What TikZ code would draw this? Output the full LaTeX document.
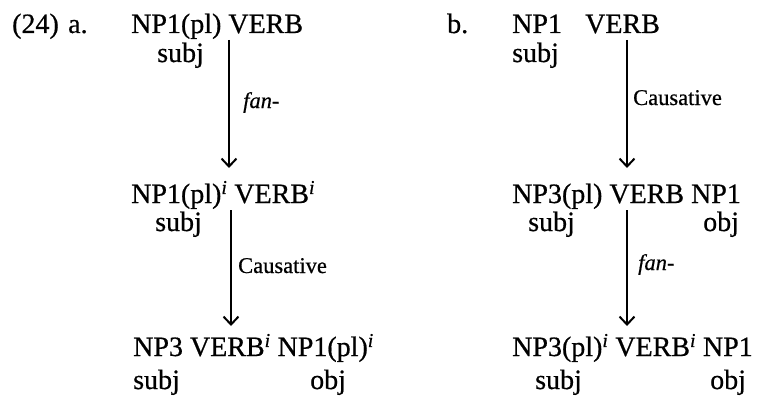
\documentclass[tikz,border=0pt]{standalone}
\usepackage{fontspec}
\setmainfont{Liberation Serif}[FakeBold=0.6, ItalicFeatures={FakeBold=0.5}]
\usetikzlibrary{arrows.meta}
\tikzset{
  txt/.style={anchor=base west, inner sep=0pt, font=\fontsize{28}{30}\selectfont},
  lbl/.style={anchor=base west, inner sep=0pt, font=\fontsize{22.5}{24}\selectfont},
  arr/.style={line width=1.1pt, -{Straight Barb[length=8pt,width=15pt,line width=2pt]}}
}
\newcommand{\supi}{\textsuperscript{\itshape i}}
\begin{document}
\begin{tikzpicture}[x=1pt,y=-1pt]
\useasboundingbox (0,0) rectangle (759,396);
% (a)
\node[txt] (num) at (12,33) {(24)};
\node[txt] (la) at (68,33) {a.};
\node[txt] (a1) at (131,33) {NP1(pl) VERB};
\node[txt] (a1s) at (157,62) {subj};
\coordinate (a1from) at (229,40);
\coordinate (a1to) at (229,168);
\draw[arr] (a1from) -- (a1to);
\node[lbl] (fa) at (243,108) {\itshape fan-};
\node[txt] (a2) at (131,203) {NP1(pl)\supi{} VERB\supi};
\node[txt] (a2s) at (155,231) {subj};
\coordinate (a2from) at (231,210);
\coordinate (a2to) at (231,326);
\draw[arr] (a2from) -- (a2to);
\node[lbl] (ca) at (238,273) {Causative};
\node[txt] (a3) at (133,356) {NP3 VERB\supi{} NP1(pl)\supi};
\node[txt] (a3s) at (133,389) {subj};
\node[txt] (a3o) at (310,389) {obj};
% (b)
\node[txt] (lb) at (447,33) {b.};
\node[txt] (b1n) at (512,33) {NP1};
\node[txt] (b1v) at (585,33) {VERB};
\node[txt] (b1s) at (512,62) {subj};
\coordinate (b1from) at (627,40);
\coordinate (b1to) at (627,168);
\draw[arr] (b1from) -- (b1to);
\node[lbl] (cb) at (633,105) {Causative};
\node[txt] (b2) at (512,203) {NP3(pl) VERB NP1};
\node[txt] (b2s) at (528,231) {subj};
\node[txt] (b2o) at (703,231) {obj};
\coordinate (b2from) at (627,210);
\coordinate (b2to) at (627,326);
\draw[arr] (b2from) -- (b2to);
\node[lbl] (fb) at (638,270) {\itshape fan-};
\node[txt] (b3) at (512,356) {NP3(pl)\supi{} VERB\supi{} NP1};
\node[txt] (b3s) at (535,389) {subj};
\node[txt] (b3o) at (710,389) {obj};
\end{tikzpicture}
\end{document}
